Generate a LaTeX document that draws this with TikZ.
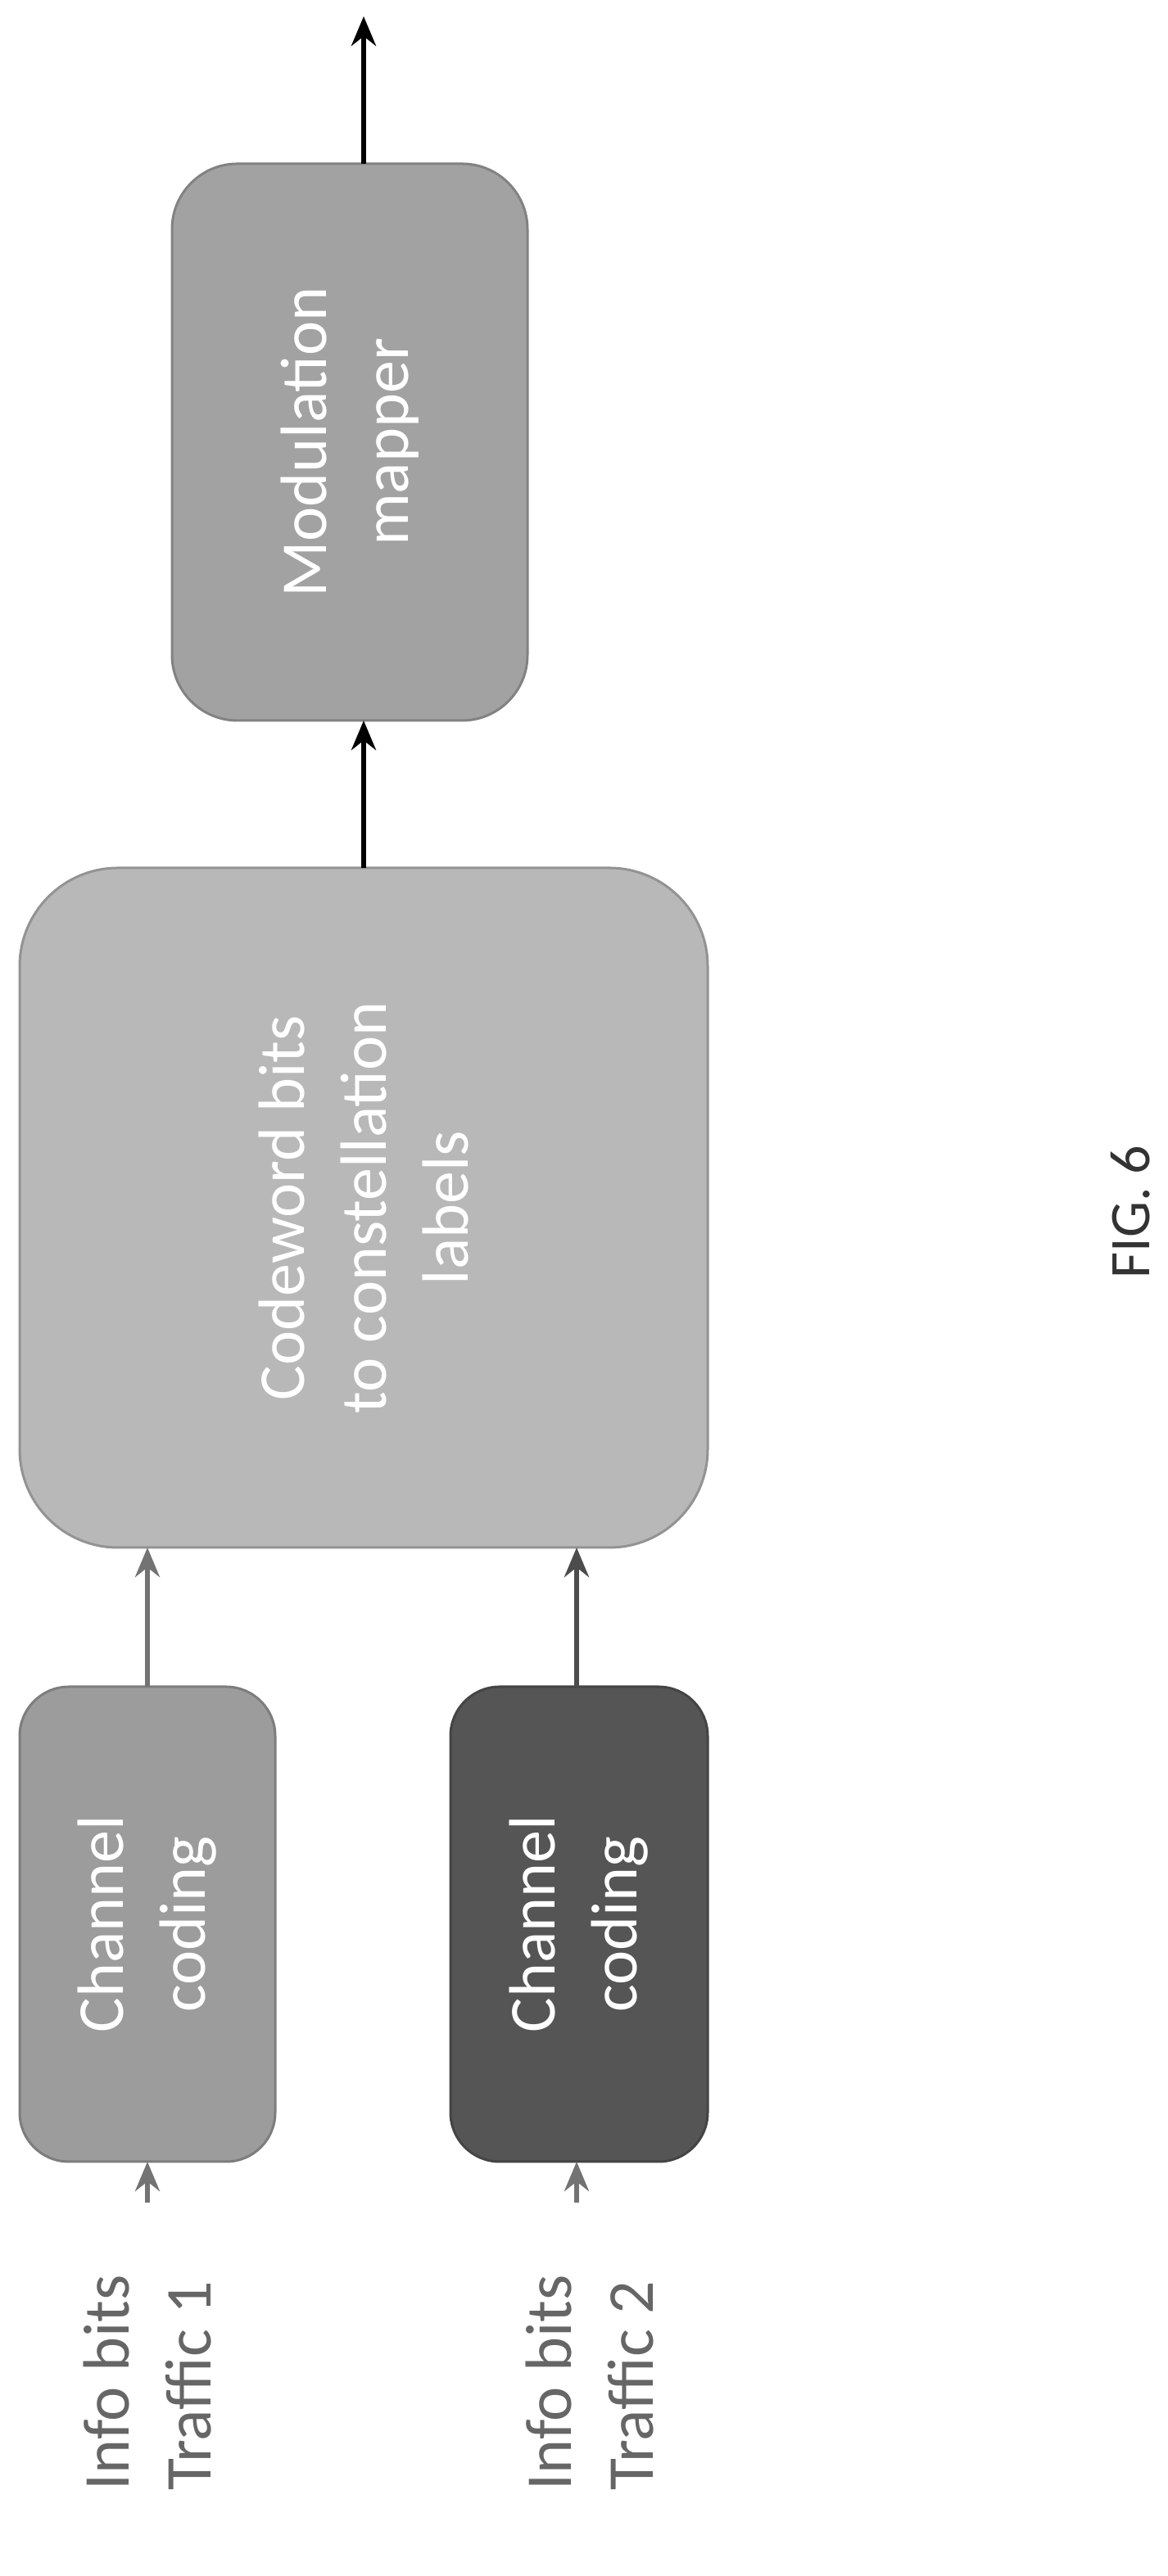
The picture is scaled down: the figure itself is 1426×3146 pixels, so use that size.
\documentclass[tikz,border=0pt]{standalone}
\usepackage{fontspec}
\setmainfont{Carlito}
\usetikzlibrary{arrows.meta}
\begin{document}
\begin{tikzpicture}[x=1pt,y=1pt,
  blk/.style={draw=#1!80!black,line width=3pt,fill=#1},
  txt/.style={rotate=90,text=white,align=center,font=\fontsize{80}{100}\selectfont},
  lbl/.style={rotate=90,text=black!60,align=left,font=\fontsize{80}{100}\selectfont},
  arr/.style={-{Stealth[length=36pt,width=30pt]},line width=6pt,draw=#1}]
\useasboundingbox (0,0) rectangle (1426,3146);
\definecolor{gA}{HTML}{9C9C9C}\definecolor{gB}{HTML}{555555}
\definecolor{gC}{HTML}{B8B8B8}\definecolor{gD}{HTML}{A2A2A2}
\path[blk=gA,rounded corners=60pt] (24,506) rectangle (336,1086);
\node[txt] (cc1) at (180,796) {Channel\\coding};
\path[blk=gB,rounded corners=60pt] (550,506) rectangle (864,1086);
\node[txt] (cc2) at (707,796) {Channel\\coding};
\path[blk=gC,rounded corners=120pt] (24,1256) rectangle (864,2086);
\node[txt] (big) at (444,1671) {Codeword bits\\to constellation\\labels};
\path[blk=gD,rounded corners=80pt] (210,2266) rectangle (644,2946);
\node[txt] (mod) at (427,2606) {Modulation\\mapper};
\coordinate (i1) at (180,456); \coordinate (i2) at (704,456);
\coordinate (c1t) at (180,1086); \coordinate (c1b) at (180,506);
\coordinate (c2t) at (704,1086); \coordinate (c2b) at (704,506);
\coordinate (b1) at (180,1256); \coordinate (b2) at (704,1256);
\coordinate (bt) at (444,2086); \coordinate (mb) at (444,2266);
\coordinate (mt) at (444,2946); \coordinate (out) at (444,3126);
\draw[arr=black!55] (i1) -- (c1b);
\draw[arr=black!55] (i2) -- (c2b);
\draw[arr=black!55] (c1t) -- (b1);
\draw[arr=black!70] (c2t) -- (b2);
\draw[arr=black] (bt) -- (mb);
\draw[arr=black] (mt) -- (out);
\node[lbl] (l1) at (180,236) {Info bits\\Traffic 1};
\node[lbl] (l2) at (720,236) {Info bits\\Traffic 2};
\node[rotate=90,font=\fontsize{70}{84}\selectfont,text=black!80] (fig) at (1380,1666) {FIG. 6};
\end{tikzpicture}
\end{document}
